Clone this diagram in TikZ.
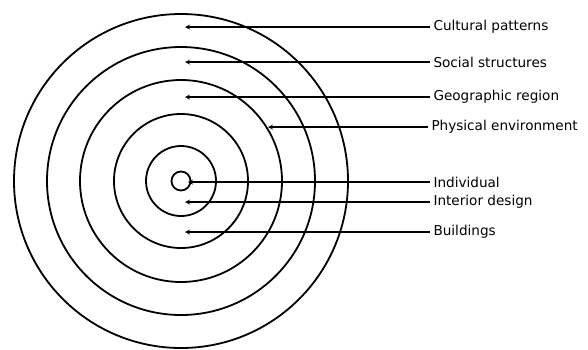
\documentclass[tikz,border=0pt]{standalone}
\usepackage{fontspec}
\setmainfont{DejaVu Sans}
\usepackage{tikz}

\begin{document}
\begin{tikzpicture}[x=1pt, y=-1pt, >=stealth,
    ring/.style={line width=1.8pt},
    pointer/.style={->, line width=1.2pt},
    lbl/.style={anchor=west, inner sep=1pt, outer sep=2.5pt, font=\fontsize{13.6}{16}\selectfont}]
\useasboundingbox (0,0) rectangle (588,349);
\coordinate (O) at (181,181);
% rings from the individual outwards
\foreach \r in {9.5,35,67,101,134,167}{
    \draw[ring] (O) circle (\r pt);
}
% arrow tips
\coordinate (tCul) at (185,27);
\coordinate (tSoc) at (185,62);
\coordinate (tGeo) at (185,97);
\coordinate (tPhy) at (268,127);
\coordinate (tInd) at (188,182);
\coordinate (tInt) at (185,202);
\coordinate (tBui) at (185,232);
% labels
\node[lbl] (Cul) at (430,27)  {Cultural patterns};
\node[lbl] (Soc) at (430,62)  {Social structures};
\node[lbl] (Geo) at (430,97)  {Geographic region};
\node[lbl] (Phy) at (428,127) {Physical environment};
\node[lbl] (Ind) at (430,182) {Individual};
\node[lbl] (Int) at (430,202) {Interior design};
\node[lbl] (Bui) at (430,232) {Buildings};
\foreach \p in {Cul,Soc,Geo,Phy,Ind,Int,Bui}{
    \draw[pointer] (\p.west) -- (t\p);
}
\end{tikzpicture}
\end{document}
